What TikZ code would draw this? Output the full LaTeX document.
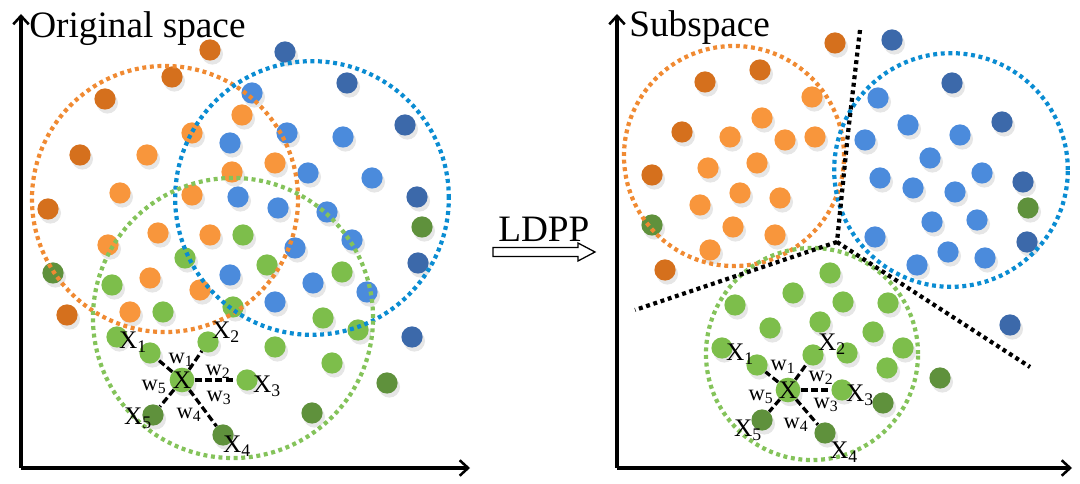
\documentclass[tikz,border=0pt]{standalone}
\usepackage{fontspec}
\setmainfont{Liberation Serif}
\usepackage{tikz}
\usetikzlibrary{arrows.meta,positioning,shadows}

\definecolor{dorange}{HTML}{D5701D}
\definecolor{lorange}{HTML}{F8963C}
\definecolor{dblue}{HTML}{3C69AA}
\definecolor{lblue}{HTML}{4B8BDC}
\definecolor{lgreen}{HTML}{7DBE4B}
\definecolor{dgreen}{HTML}{5F913C}
\definecolor{orangering}{HTML}{F08A32}
\definecolor{bluering}{HTML}{0A8CD2}
\definecolor{greenring}{HTML}{84C35A}

\begin{document}
\begin{tikzpicture}[
  x=0.025cm, y=-0.025cm,
  dot/.style={circle, inner sep=0pt, minimum size=0.53cm,
    drop shadow={shadow xshift=0.06cm, shadow yshift=-0.1cm, opacity=0.2}},
  ring/.style={line width=3pt, dash pattern=on 2.8pt off 2.6pt},
  border/.style={ring, black},
  axis/.style={line width=2.2pt, -{Straight Barb[length=6pt,width=11pt,line width=1.8pt]}},
  link/.style={line width=2.3pt, dash pattern=on 5pt off 2.4pt},
  title/.style={font=\fontsize{26.5}{30}\selectfont, inner sep=0pt},
  xlab/.style={font=\fontsize{18}{19}\selectfont, inner sep=0pt},
  wlab/.style={font=\fontsize{16}{17}\selectfont, inner sep=0pt},
  hollow/.style={draw, line width=0.9pt, fill=white, line join=miter}
]
\useasboundingbox (0,0) rectangle (1080,484);

% ---------- original space ----------
\coordinate (lorigin) at (21,468);
\coordinate (lytip) at (21,14);
\coordinate (lxtip) at (470,468);
\draw[axis] (lorigin) -- (lytip);
\draw[axis] (lorigin) -- (lxtip);
\node[title, anchor=base west] (ltitle) at (29,38) {Original space};

\foreach \p [count=\i] in {(210,50),(172,77),(105,99),(80,155),(48,209),(67,315)}
  \node[dot, fill=dorange] (ldo\i) at \p {};
\foreach \p [count=\i] in {(242,115),(192,133),(147,155),(275,163),(232,172),(120,193),
    (192,195),(158,233),(210,235),(108,245),(150,278),(200,290),(130,312)}
  \node[dot, fill=lorange] (lo\i) at \p {};
\foreach \p [count=\i] in {(252,93),(287,133),(230,143),(343,137),(308,173),(372,178),
    (238,197),(278,208),(327,212),(352,240),(295,248),(230,275),(313,283),(367,292),(275,302)}
  \node[dot, fill=lblue] (lb\i) at \p {};
\foreach \p [count=\i] in {(285,52),(347,83),(405,125),(417,197),(418,263),(412,337)}
  \node[dot, fill=dblue] (ldb\i) at \p {};
\foreach \p [count=\i] in {(243,235),(185,258),(267,265),(342,272),(112,285),(163,312),
    (233,307),(323,318),(358,330),(117,337),(275,347),(332,363)}
  \node[dot, fill=lgreen] (lg\i) at \p {};
\foreach \p [count=\i] in {(53,273),(422,227),(387,383),(312,413)}
  \node[dot, fill=dgreen] (ldg\i) at \p {};

% neighbourhood
\node[dot, fill=lgreen] (lx1) at (150,353) {};
\node[dot, fill=lgreen] (lx2) at (208,342) {};
\node[dot, fill=lgreen] (lx3) at (247,380) {};
\node[dot, fill=dgreen] (lx4) at (223,435) {};
\node[dot, fill=dgreen] (lx5) at (153,415) {};
\node[dot, fill=lgreen, font=\fontsize{18}{19}\selectfont] (lc) at (182,380) {X};
\foreach \n in {1,...,5} \draw[link] (lc) -- (lx\n);

\draw[ring, orangering] (165,199) circle[radius=3.325cm];
\draw[ring, bluering] (312,198) circle[radius=3.42cm];
\draw[ring, greenring] (233,318) circle[radius=3.5cm];

\node[xlab] (lxl1) at (133,342) {X\textsubscript{1}};
\node[xlab] (lxl2) at (226,332) {X\textsubscript{2}};
\node[xlab] (lxl3) at (267,386) {X\textsubscript{3}};
\node[xlab] (lxl4) at (237,446) {X\textsubscript{4}};
\node[xlab] (lxl5) at (138,418) {X\textsubscript{5}};
\node[wlab] (lw1) at (181,360) {w\textsubscript{1}};
\node[wlab] (lw2) at (218,372) {w\textsubscript{2}};
\node[wlab] (lw3) at (219,398) {w\textsubscript{3}};
\node[wlab] (lw4) at (189,415) {w\textsubscript{4}};
\node[wlab] (lw5) at (154,387) {w\textsubscript{5}};

% ---------- LDPP ----------
\draw[hollow] (493,247.5) -- (578,247.5) -- (578,243) -- (595,252) -- (578,261)
  -- (578,256.5) -- (493,256.5) -- cycle;
\node[title, anchor=base west] (ldpp) at (498,242) {LDPP};

% ---------- subspace ----------
\coordinate (rorigin) at (617,468);
\coordinate (rytip) at (617,14);
\coordinate (rxtip) at (1072,468);
\draw[axis] (rorigin) -- (rytip);
\draw[axis] (rorigin) -- (rxtip);
\node[title, anchor=base west] (rtitle) at (629,37) {Subspace};

\foreach \p [count=\i] in {(835,43),(760,70),(705,82),(682,132),(652,175),(665,270)}
  \node[dot, fill=dorange] (rdo\i) at \p {};
\foreach \p [count=\i] in {(812,97),(762,118),(730,137),(785,140),(815,137),(708,168),
    (757,163),(740,193),(780,198),(700,205),(733,227),(775,235),(710,250)}
  \node[dot, fill=lorange] (ro\i) at \p {};
\foreach \p [count=\i] in {(878,98),(908,125),(865,140),(960,135),(930,158),(880,178),
    (982,173),(913,188),(955,192),(932,222),(977,220),(875,237),(948,252),(985,258),(917,265)}
  \node[dot, fill=lblue] (rb\i) at \p {};
\foreach \p [count=\i] in {(892,40),(952,83),(1002,122),(1023,182),(1027,242),(1010,325)}
  \node[dot, fill=dblue] (rdb\i) at \p {};
\foreach \p [count=\i] in {(830,273),(793,293),(735,305),(843,302),(888,303),(770,328),
    (820,322),(873,332),(903,348),(722,348),(887,368),(847,353)}
  \node[dot, fill=lgreen] (rg\i) at \p {};
\foreach \p [count=\i] in {(652,225),(1028,208),(940,378),(883,403)}
  \node[dot, fill=dgreen] (rdg\i) at \p {};

% neighbourhood
\node[dot, fill=lgreen] (rx1) at (757,365) {};
\node[dot, fill=lgreen] (rx2) at (813,355) {};
\node[dot, fill=lgreen] (rx3) at (842,390) {};
\node[dot, fill=dgreen] (rx4) at (825,433) {};
\node[dot, fill=dgreen] (rx5) at (762,420) {};
\node[dot, fill=lgreen, font=\fontsize{18}{19}\selectfont] (rc) at (788,390) {X};
\foreach \n in {1,...,5} \draw[link] (rc) -- (rx\n);

\draw[ring, orangering] (734,156) circle[radius=2.75cm];
\draw[ring, bluering] (951,170) circle[radius=2.92cm];
\draw[ring, greenring] (812,354) circle[radius=2.65cm];

% class borders
\coordinate (junc) at (837,242);
\coordinate (bbend) at (848,133);
\coordinate (btop) at (860,30);
\coordinate (bleft) at (635,310);
\coordinate (bright) at (1030,367);
\draw[border] (btop) -- (bbend) -- (junc);
\draw[border] (junc) -- (bleft);
\draw[border] (junc) -- (bright);

\node[xlab] (rxl1) at (740,354) {X\textsubscript{1}};
\node[xlab] (rxl2) at (832,344) {X\textsubscript{2}};
\node[xlab] (rxl3) at (860,395) {X\textsubscript{3}};
\node[xlab] (rxl4) at (844,452) {X\textsubscript{4}};
\node[xlab] (rxl5) at (748,430) {X\textsubscript{5}};
\node[wlab] (rw1) at (783,367) {w\textsubscript{1}};
\node[wlab] (rw2) at (821,378) {w\textsubscript{2}};
\node[wlab] (rw3) at (826,405) {w\textsubscript{3}};
\node[wlab] (rw4) at (796,425) {w\textsubscript{4}};
\node[wlab] (rw5) at (761,397) {w\textsubscript{5}};
\end{tikzpicture}
\end{document}
